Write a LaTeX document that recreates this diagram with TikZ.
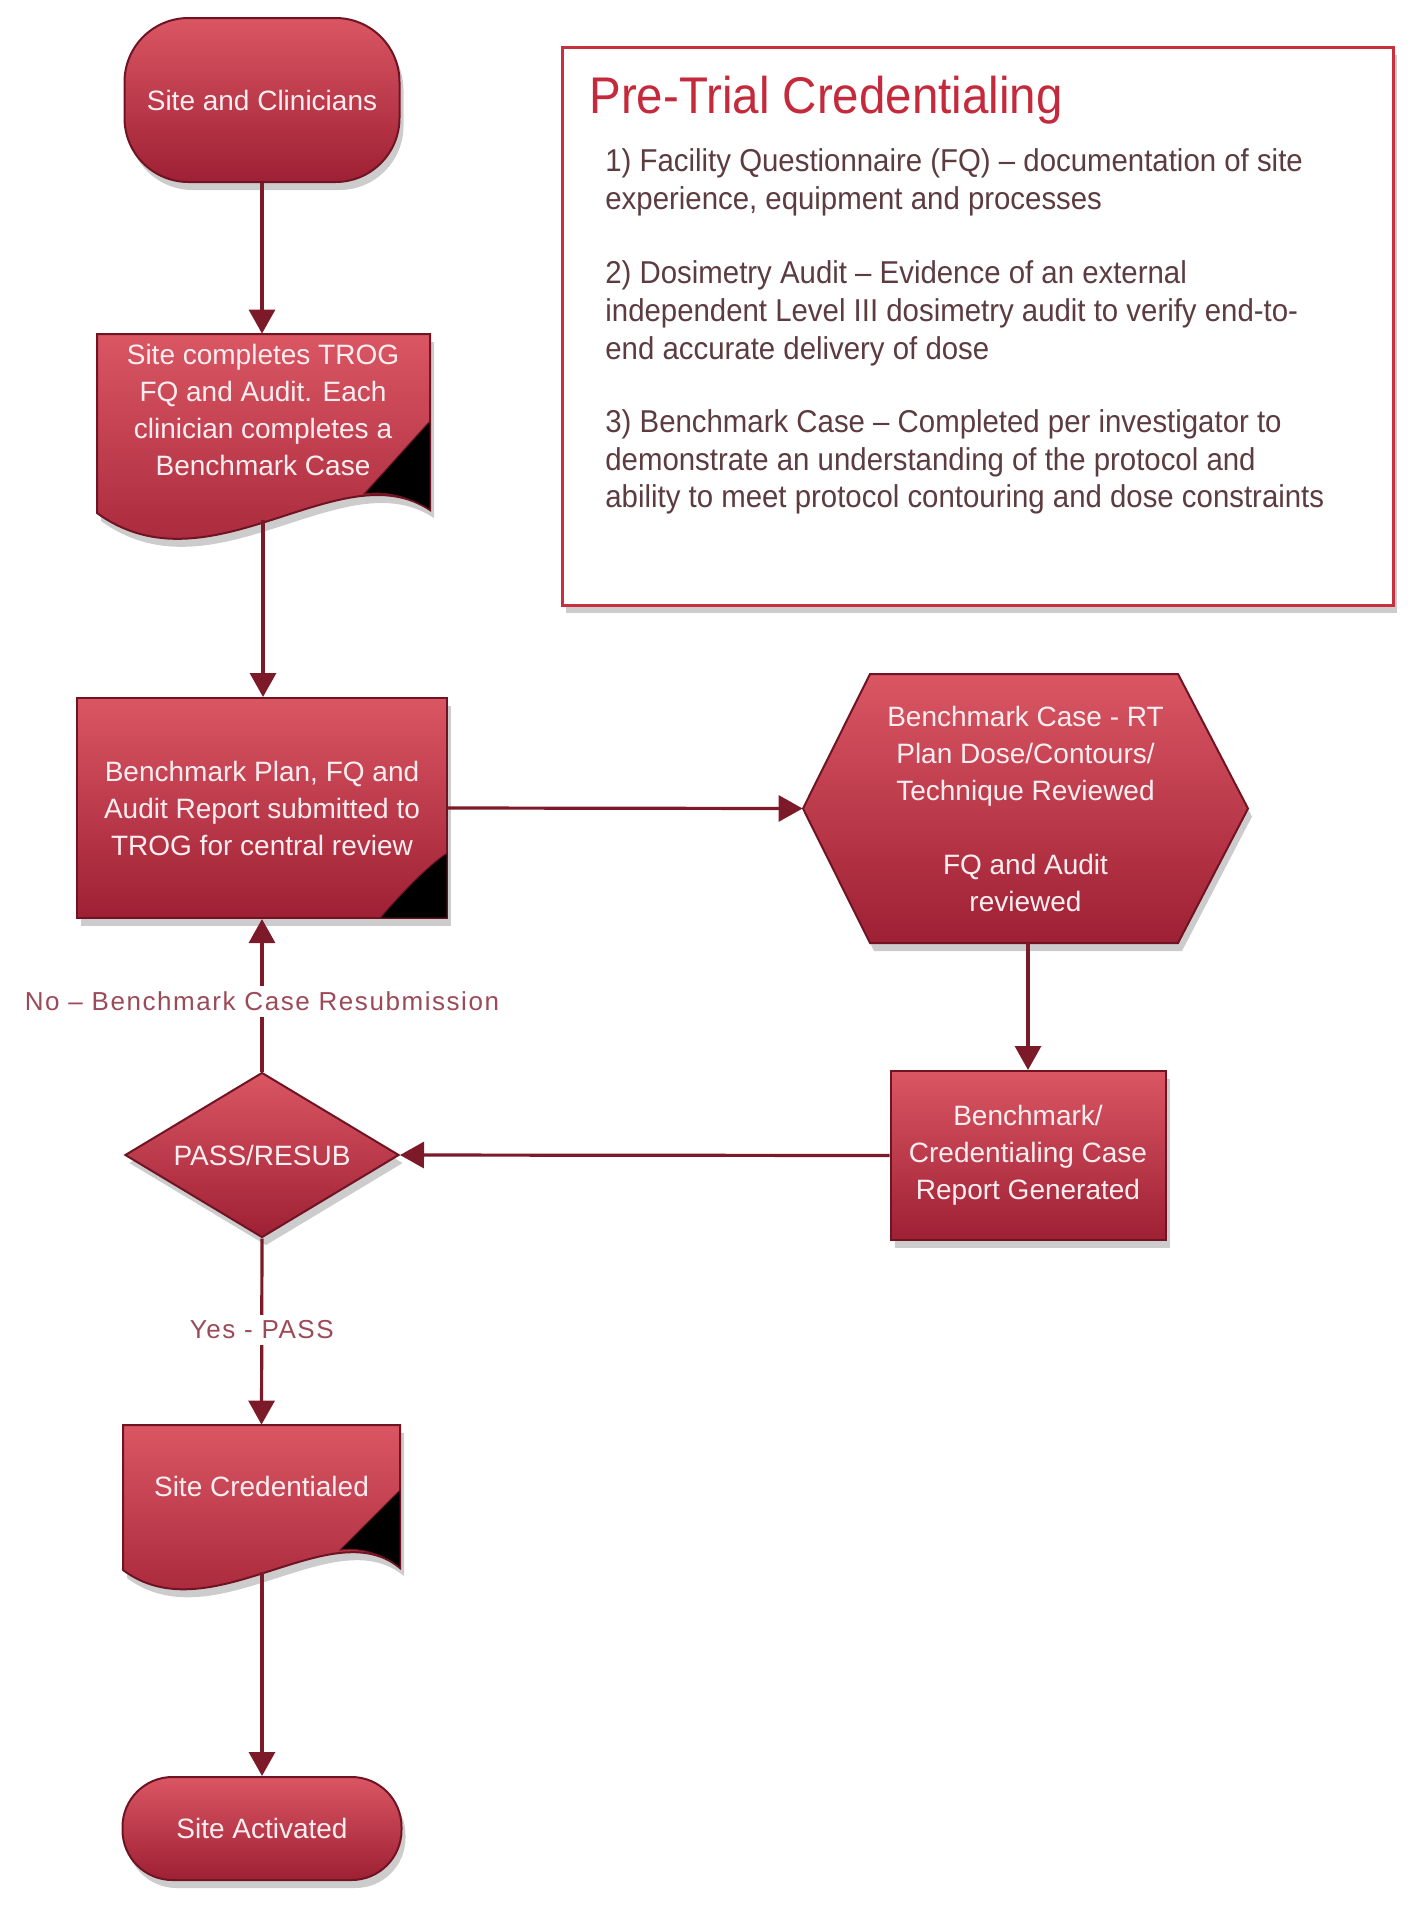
\documentclass[tikz,border=0pt]{standalone}
\usepackage{fontspec}
\setmainfont{Liberation Sans}
\newfontfamily\condfont[FakeStretch=0.93]{Liberation Sans}
\newfontfamily\titlefont[FakeStretch=0.92]{Liberation Sans}
\newfontfamily\lblfont[LetterSpace=6]{Liberation Sans}
\usetikzlibrary{arrows.meta,shadows,shapes.geometric}
\definecolor{topred}{RGB}{218,86,99}
\definecolor{botred}{RGB}{158,32,52}
\definecolor{edgered}{RGB}{112,20,36}
\definecolor{arrowred}{RGB}{125,26,42}
\definecolor{lblred}{RGB}{156,74,88}
\definecolor{titlered}{RGB}{196,42,60}
\definecolor{bodytxt}{RGB}{92,60,64}
\definecolor{nodetxt}{RGB}{252,238,240}
\definecolor{framered}{RGB}{200,48,64}
\begin{document}
\begin{tikzpicture}[x=0.5pt,y=-0.5pt,
  redfill/.style={top color=topred,bottom color=botred,draw=edgered,line width=1pt,
    drop shadow={shadow xshift=2pt,shadow yshift=-4pt,opacity=0.4}},
  txt/.style={text=nodetxt,font=\fontsize{14}{18.5}\selectfont,align=center,inner sep=0pt},
  conn/.style={draw=arrowred,line width=1.6pt,-{Triangle[width=13pt,length=12pt]}},
  lbl/.style={text=lblred,font=\lblfont\fontsize{13}{16}\selectfont,fill=white,inner sep=3pt},
  bodyline/.style={anchor=base west,inner sep=0pt,text=bodytxt,font=\condfont\fontsize{15.8}{18.75}\selectfont},
  corner/.style={fill=black,draw=edgered,line width=0.5pt}
]
\useasboundingbox (0,0) rectangle (1417,1918);

% Pre-trial credentialing panel
\node[draw=framered,line width=1.5pt,fill=white,minimum width=415.5pt,minimum height=279pt,inner sep=0pt,
  drop shadow={shadow xshift=2pt,shadow yshift=-4pt,opacity=0.4}] (panel) at (977.5,326) {};
\node[anchor=base west,inner sep=0pt,text=titlered,font=\titlefont\fontsize{25.8}{30}\selectfont] (title) at (589,113) {Pre-Trial Credentialing};
\node[bodyline] (l1) at (605,171) {1) Facility Questionnaire (FQ) – documentation of site};
\node[bodyline] (l2) at (605,209) {experience, equipment and processes};
\node[bodyline] (l3) at (605,283) {2) Dosimetry Audit – Evidence of an external};
\node[bodyline] (l4) at (605,321) {independent Level III dosimetry audit to verify end-to-};
\node[bodyline] (l5) at (605,359) {end accurate delivery of dose};
\node[bodyline] (l6) at (605,432) {3) Benchmark Case – Completed per investigator to};
\node[bodyline] (l7) at (605,470) {demonstrate an understanding of the protocol and};
\node[bodyline] (l8) at (605,507) {ability to meet protocol contouring and dose constraints};

% Start terminal
\node[redfill,txt,rounded corners=32pt,minimum width=137.5pt,minimum height=82pt] (start) at (262,100) {Site and Clinicians};

% Document 1
\path[redfill] (97,334) -- (430,334) -- (430,510) .. controls (340,450) and (210,595) .. (97,513) -- cycle;
\path[corner] (430,421) -- (364,494) .. controls (390,490) and (415,500) .. (430,510) -- cycle;
\node[txt,minimum width=166pt,minimum height=76pt] (doc1) at (263,410) {Site completes TROG\\FQ and Audit. Each\\clinician completes a\\Benchmark Case};
\coordinate (doc1b) at (263,520);

% Submission box
\node[redfill,txt,minimum width=185pt,minimum height=110pt] (sub) at (262,808) {Benchmark Plan, FQ and\\Audit Report submitted to\\TROG for central review};
\path[corner] (447,853) -- (447,918) -- (380,918) .. controls (400,895) and (425,868) .. (447,853) -- cycle;

% Hexagon review
\path[redfill] (803,808.5) -- (870,674) -- (1178,674) -- (1248,808.5) -- (1178,943) -- (870,943) -- cycle;
\node[txt,minimum width=222.5pt,minimum height=134.5pt] (hex) at (1025.5,808.5) {Benchmark Case - RT\\Plan Dose/Contours/\\Technique Reviewed\\[18.5pt]FQ and Audit\\reviewed};

% Report box
\node[redfill,txt,minimum width=137.5pt,minimum height=84.5pt] (rep) at (1028,1155.5) {Benchmark/\\Credentialing Case\\Report Generated};

% Decision
\node[redfill,txt,diamond,shape aspect=1.67,minimum width=137pt,minimum height=82.5pt] (dec) at (262,1155) {PASS/RESUB};

% Document 2
\path[redfill] (123,1425) -- (400,1425) -- (400,1568) .. controls (330,1510) and (210,1635) .. (123,1570) -- cycle;
\path[corner] (400,1490) -- (340,1550) .. controls (362,1547) and (385,1555) .. (400,1568) -- cycle;
\node[txt,minimum width=138.5pt,minimum height=61pt] (cred) at (261.5,1486) {Site Credentialed};
\coordinate (credb) at (262,1572);

% End terminal
\node[redfill,txt,rounded corners=25pt,minimum width=139.5pt,minimum height=51.5pt] (act) at (262,1828.5) {Site Activated};

% Connectors
\draw[conn] (start.south) -- (start.south |- doc1.north);
\draw[conn] (doc1b) -- (doc1b |- sub.north);
\draw[conn] (sub.east) -- (hex.west);
\draw[conn] (hex.south -| rep.north) -- (rep.north);
\draw[conn] (rep.west) -- (dec.east);
\draw[conn] (dec.north) -- node[lbl,pos=0.46] (nolbl) {No – Benchmark Case Resubmission} (sub.south);
\draw[conn] (dec.south) -- node[lbl,pos=0.49] (yeslbl) {Yes - PASS} (cred.north);
\draw[conn] (credb) -- (credb |- act.north);
\end{tikzpicture}
\end{document}
